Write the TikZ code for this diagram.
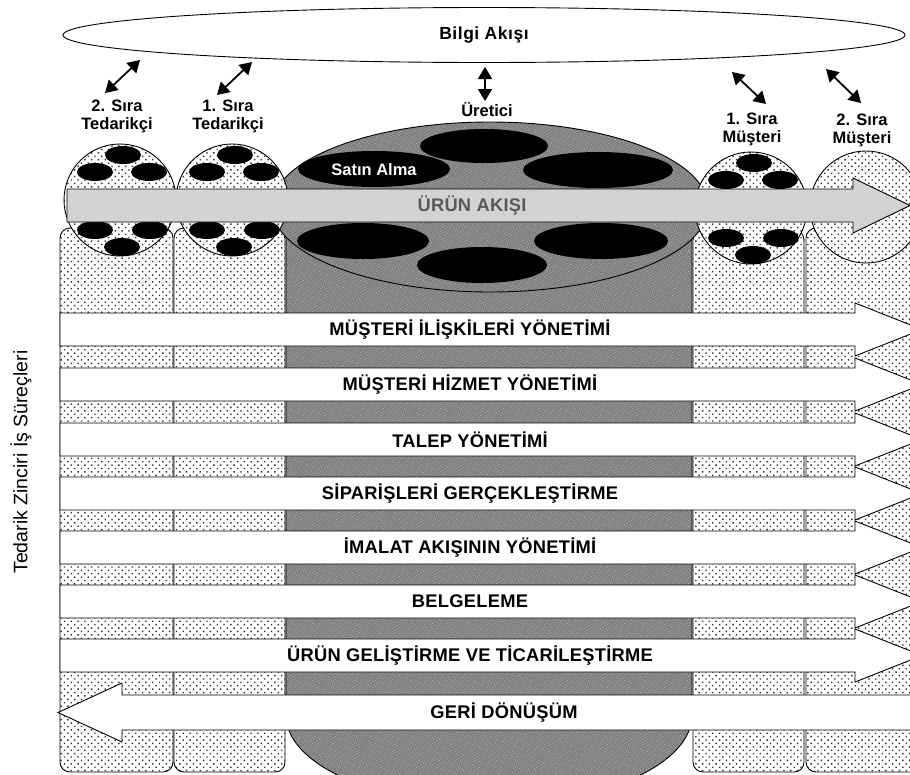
\documentclass[tikz,border=0pt]{standalone}
\usepackage{fontspec}
\setmainfont{Liberation Sans}
\newfontfamily\bandfont[LetterSpace=1.5]{Liberation Sans}
\newfontfamily\titlefont[LetterSpace=3]{Liberation Sans}
\usetikzlibrary{arrows.meta,patterns.meta,shapes.geometric}
\begin{document}
\begin{tikzpicture}[x=1pt,y=-1pt,
  outl/.style={draw=black,line width=0.9pt},
  dotfill/.style={outl,preaction={fill=white},pattern={Dots[distance=4.8pt,angle=45,radius=1pt]},pattern color=black!80},
  darkfill/.style={outl,preaction={fill=black!50},pattern={Dots[distance=2.6pt,angle=30,radius=0.55pt]},pattern color=black!28},
  flowfill/.style={outl,preaction={fill=black!17},pattern={Dots[distance=2.4pt,angle=20,radius=0.5pt]},pattern color=white!80!black},
  bandarrow/.style={outl,fill=white},
  blob/.style={fill=black},
  dbl/.style={{Triangle[width=14pt,length=12pt]}-{Triangle[width=14pt,length=12pt]},line width=1.8pt},
  lbl/.style={font=\bfseries\fontsize{16.5}{18}\selectfont,align=center,inner sep=0pt},
  bandtxt/.style={font=\bandfont\bfseries\fontsize{18.3}{20}\selectfont,inner sep=0pt}
]
\useasboundingbox (0,0) rectangle (910,774);
\clip (0,0) rectangle (910,774);

% information flow ellipse
\node[ellipse,outl,minimum width=842pt,minimum height=55pt,inner sep=0pt,
      font=\titlefont\bfseries\fontsize{17.5}{19}\selectfont] (bilgi) at (484,35) {Bilgi Akışı};

% double arrows
\coordinate (a1s) at (105,93);  \coordinate (a1e) at (140,60);
\coordinate (a2s) at (217,95);  \coordinate (a2e) at (252,62);
\coordinate (a3s) at (485,101); \coordinate (a3e) at (485,67);
\coordinate (a4s) at (766,104); \coordinate (a4e) at (732,72);
\coordinate (a5s) at (861,103); \coordinate (a5e) at (826,69);
\draw[dbl] (a1s) -- (a1e);
\draw[dbl] (a2s) -- (a2e);
\draw[dbl] (a3s) -- (a3e);
\draw[dbl] (a4s) -- (a4e);
\draw[dbl] (a5s) -- (a5e);

% labels
\node[lbl] (sup2) at (117,116) {2. Sıra\\[0pt]Tedarikçi};
\node[lbl] (sup1) at (228,116) {1. Sıra\\[0pt]Tedarikçi};
\node[lbl] (uret) at (487,110) {Üretici};
\node[lbl] (cus1) at (752,129) {1. Sıra\\[0pt]Müşteri};
\node[lbl] (cus2) at (862,130) {2. Sıra\\[0pt]Müşteri};

% columns
\draw[dotfill,rounded corners=10pt] (60,228) rectangle (173,772);
\draw[dotfill,rounded corners=10pt] (174,228) rectangle (285,772);
\draw[dotfill,rounded corners=10pt] (693,230) rectangle (804,772);
\draw[dotfill,rounded corners=10pt] (806,228) rectangle (935,772);
\draw[darkfill] (286,228) -- (286,715) .. controls (286,765) and (377,805) .. (489,805)
   .. controls (601,805) and (692,765) .. (692,715) -- (692,228) -- cycle;

% producer ellipse
\draw[darkfill] (490,207) ellipse [x radius=218, y radius=85];

% circles
\draw[dotfill] (120,200) circle [radius=56];
\draw[dotfill] (232,200) circle [radius=56];
\draw[dotfill] (751,208) circle [radius=56];
\draw[dotfill] (866,207) circle [radius=56];

% small black ellipses
\foreach \cx/\cy in {120/200,232/200,751/208}{
  \foreach \dx/\dy in {3/-45,-25/-28,29/-28,-25/30,30/30,2/47}{
    \fill[blob] (\cx+\dx,\cy+\dy) ellipse [x radius=18, y radius=9];
  }
}

% big black ellipses
\fill[blob] (484,146) ellipse [x radius=64, y radius=17];
\fill[blob] (374,169) ellipse [x radius=76, y radius=18];
\fill[blob] (598,170) ellipse [x radius=75, y radius=18];
\fill[blob] (363,241) ellipse [x radius=66, y radius=18];
\fill[blob] (601,241) ellipse [x radius=67, y radius=18];
\fill[blob] (482,265) ellipse [x radius=65, y radius=18];
\node[lbl,text=white] (satin) at (374,170) {Satın Alma};

% product flow arrow
\draw[flowfill] (67,189) -- (853,189) -- (853,178) -- (910,205.5) -- (853,233) -- (853,222) -- (67,222) -- cycle;
\node[bandtxt,text=black!65] (urun) at (472,205.5) {ÜRÜN AKIŞI};

% process bands
\foreach \t/\txt [count=\i] in {313/{MÜŞTERİ İLİŞKİLERİ YÖNETİMİ},368/{MÜŞTERİ HİZMET YÖNETİMİ},423/{TALEP YÖNETİMİ},477/{SİPARİŞLERİ GERÇEKLEŞTİRME},531/{İMALAT AKIŞININ YÖNETİMİ},585/{BELGELEME},639/{ÜRÜN GELİŞTİRME VE TİCARİLEŞTİRME}}{
  \draw[bandarrow] (60,\t) -- (855,\t) -- (855,\t-10) -- (922,\t+16.5) -- (855,\t+43) -- (855,\t+33) -- (60,\t+33) -- cycle;
  \node[bandtxt] (band\i) at (470,\t+16.5) {\txt};
}
\draw[bandarrow] (935,695) -- (122,695) -- (122,683) -- (58,712.5) -- (122,742) -- (122,730) -- (935,730) -- cycle;
\node[bandtxt] (band8) at (504,712.5) {GERİ DÖNÜŞÜM};

% side label
\node[rotate=90,font=\fontsize{19.5}{21}\selectfont,inner sep=0pt] (side) at (21,462) {Tedarik Zinciri İş Süreçleri};
\end{tikzpicture}
\end{document}
